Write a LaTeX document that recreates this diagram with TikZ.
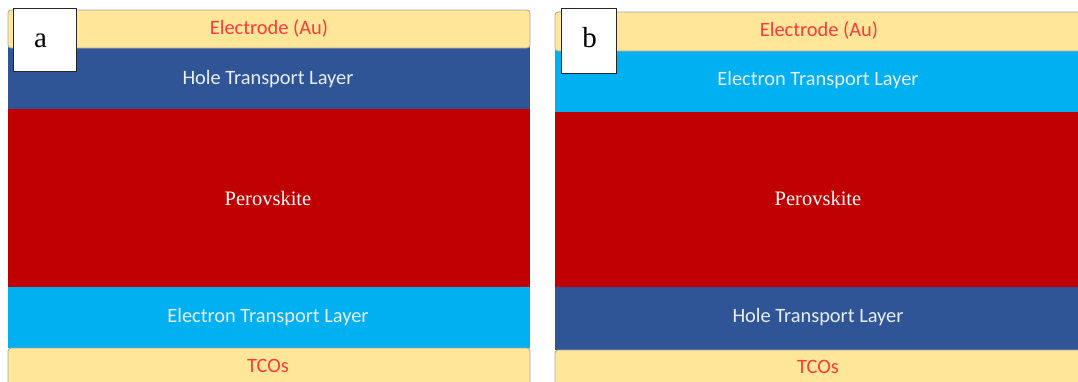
\documentclass[tikz,border=0pt]{standalone}
\usepackage{fontspec}
\setmainfont{Liberation Serif}
\newfontfamily\calib{Carlito}
\definecolor{elec}{HTML}{FFE699}
\definecolor{htl}{HTML}{2F5597}
\definecolor{pero}{HTML}{C00000}
\definecolor{etl}{HTML}{00B0F0}
\definecolor{redtxt}{HTML}{FF3B3B}
\definecolor{lighttxt}{HTML}{E8EEF8}
\tikzset{
  elecbox/.style={fill=elec, draw=gray!70, line width=0.8pt, rounded corners=3pt},
  sanslbl/.style={font=\calib\fontsize{20.4}{24}\selectfont, text=lighttxt},
  redlbl/.style={font=\calib\fontsize{20.4}{24}\selectfont, text=redtxt},
  perolbl/.style={font=\fontsize{20.5}{24}\selectfont, text=white},
  tagbox/.style={draw=black!85, line width=1pt, fill=white, inner sep=0pt},
  tagtext/.style={anchor=base, inner sep=0pt, font=\fontsize{29}{30}\selectfont}
}
\begin{document}
\begin{tikzpicture}[x=1pt,y=-1pt]
\useasboundingbox (0,0) rectangle (1078,381);
% panel a
\fill[htl] (8,47) rectangle (530,110);
\fill[pero] (8,109) rectangle (530,288);
\fill[etl] (8,287) rectangle (530,348);
\draw[elecbox] (8,10) rectangle (530,48);
\draw[elecbox] (8,348) rectangle (530,386);
\node[redlbl] (aE) at (269,28) {Electrode (Au)};
\node[sanslbl] (aH) at (268,79) {Hole Transport Layer};
\node[perolbl] (aP) at (268,198) {Perovskite};
\node[sanslbl] (aT) at (268,317) {Electron Transport Layer};
\node[redlbl] (aC) at (268,366) {TCOs};
\node[tagbox, minimum width=63pt, minimum height=63pt] (ta) at (45,39.5) {};
\node[tagtext] (tal) at (40.5,47) {a};
% panel b
\fill[etl] (555,50) rectangle (1082,113);
\fill[pero] (555,112) rectangle (1082,288);
\fill[htl] (555,287) rectangle (1082,350);
\draw[elecbox] (555,12) rectangle (1085,51);
\draw[elecbox] (555,350) rectangle (1085,386);
\node[redlbl] (bE) at (819,30) {Electrode (Au)};
\node[sanslbl] (bT) at (818,80) {Electron Transport Layer};
\node[perolbl] (bP) at (818,198) {Perovskite};
\node[sanslbl] (bH) at (818,317) {Hole Transport Layer};
\node[redlbl] (bC) at (818,367) {TCOs};
\node[tagbox, minimum width=55pt, minimum height=65pt] (tb) at (589,41) {};
\node[tagtext] (tbl) at (589.5,47) {b};
\end{tikzpicture}
\end{document}
